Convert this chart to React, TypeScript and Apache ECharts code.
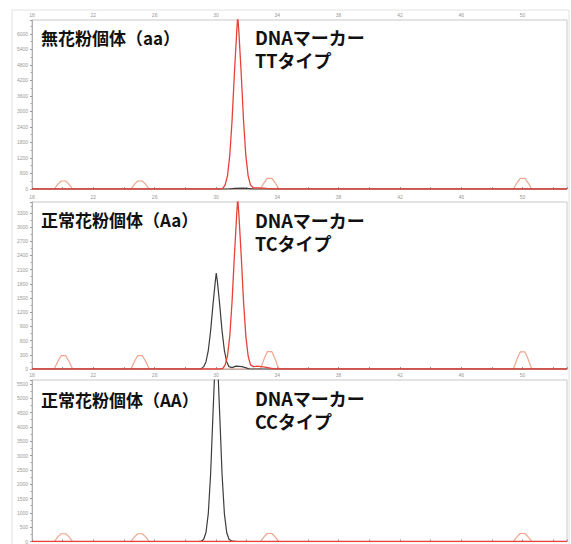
import React, { useEffect, useRef } from "react";
import * as echarts from "echarts";

// ---- data ----
const xMin = 18;
const xMax = 52.9;
const yMaxes = [6540, 3530, 5636];
const yIntervals = [600, 300, 500];

const titles = ["無花粉個体（aa）", "正常花粉個体（Aa）", "正常花粉個体（AA）"];
const markerLine1 = ["DNAマーカー", "DNAマーカー", "DNAマーカー"];
const markerLine2 = ["TTタイプ", "TCタイプ", "CCタイプ"];

const p1Red: [number, number][] = [
  [18, 0], [30.25, 0], [30.45, 26], [30.6, 160], [30.75, 510], [30.9, 1280], [31.05, 2640], [31.2, 4430],
  [31.35, 6040], [31.42, 6700], [31.5, 6040], [31.65, 4430], [31.8, 2640], [31.95, 1280], [32.1, 510],
  [32.25, 160], [32.45, 40], [32.8, 40], [33.3, 20], [34, 0], [52.9, 0],
];
const p1Black: [number, number][] = [
  [18, 0], [30.8, 0], [31.2, 25], [31.8, 35], [32.5, 0], [52.9, 0],
];
const p1Orange: [number, number][] = [
  [18, 0], [19.45, 0], [19.7, 190], [19.9, 310], [20.2, 310], [20.4, 190], [20.65, 0],
  [24.45, 0], [24.7, 190], [24.9, 310], [25.2, 310], [25.4, 190], [25.65, 0],
  [32.9, 0], [33.15, 250], [33.35, 415], [33.65, 415], [33.85, 250], [34.1, 0],
  [49.4, 0], [49.65, 250], [49.85, 415], [50.15, 415], [50.35, 250], [50.6, 0], [52.9, 0],
];

const p2Red: [number, number][] = [
  [18, 0], [30.25, 0], [30.45, 14], [30.6, 88], [30.75, 275], [30.9, 690], [31.05, 1420], [31.2, 2380],
  [31.35, 3245], [31.42, 3600], [31.5, 3245], [31.65, 2380], [31.8, 1420], [31.95, 690], [32.1, 275],
  [32.25, 88], [32.45, 50], [32.7, 60], [33.2, 40], [33.8, 0], [52.9, 0],
];
const p2Black: [number, number][] = [
  [18, 0], [28.85, 0], [29.05, 8], [29.2, 50], [29.35, 155], [29.5, 390], [29.65, 800], [29.8, 1340],
  [29.95, 1830], [30.02, 2030], [30.1, 1830], [30.25, 1340], [30.4, 800], [30.55, 390], [30.7, 155],
  [30.85, 50], [31.05, 30], [31.3, 60], [31.7, 50], [32.2, 0], [52.9, 0],
];
const p2Orange: [number, number][] = [
  [18, 0], [19.45, 0], [19.7, 170], [19.9, 281], [20.2, 281], [20.4, 170], [20.65, 0],
  [24.45, 0], [24.7, 170], [24.9, 281], [25.2, 281], [25.4, 170], [25.65, 0],
  [32.9, 0], [33.15, 220], [33.35, 366], [33.65, 366], [33.85, 220], [34.1, 0],
  [49.4, 0], [49.65, 220], [49.85, 360], [50.15, 360], [50.35, 220], [50.6, 0], [52.9, 0],
];

const p3Red: [number, number][] = [
  [18, 0], [52.9, 0],
];
const p3Black: [number, number][] = [
  [18, 0], [28.85, 0], [29.05, 10], [29.2, 80], [29.35, 315], [29.5, 975], [29.65, 2330], [29.8, 4370],
  [29.95, 6350], [30.02, 7200], [30.1, 6350], [30.25, 4370], [30.4, 2330], [30.55, 975], [30.7, 315],
  [30.85, 80], [31.05, 10], [31.4, 0], [52.9, 0],
];
const p3Orange: [number, number][] = [
  [18, 0], [19.45, 0], [19.7, 170], [19.9, 270], [20.2, 270], [20.4, 170], [20.65, 0],
  [24.45, 0], [24.7, 170], [24.9, 270], [25.2, 270], [25.4, 170], [25.65, 0],
  [32.9, 0], [33.15, 170], [33.35, 280], [33.65, 280], [33.85, 170], [34.1, 0],
  [49.4, 0], [49.65, 170], [49.85, 280], [50.15, 280], [50.35, 170], [50.6, 0], [52.9, 0],
];

const redTraces = [p1Red, p2Red, p3Red];
const blackTraces = [p1Black, p2Black, p3Black];
const orangeTraces = [p1Orange, p2Orange, p3Orange];

// ---- layout ----
const W = 571;
const H = 544;
const gridTops = [20, 202, 380];
const gridHeights = [169, 167, 166];
const gridLeft = 32;
const gridRight = 4;
const titleY = [37, 219, 399];
const markerY = [37, 220, 398];
const markerGap = 23;

const FONT = "'Noto Sans CJK JP', 'Noto Sans', sans-serif";

export default function App() {
  const ref = useRef<HTMLDivElement>(null);
  useEffect(() => {
    if (!ref.current) return;
    const chart = echarts.init(ref.current, null, { renderer: "svg" });
    const grids = gridTops.map((t, i) => ({
      left: gridLeft,
      right: gridRight,
      top: t,
      height: gridHeights[i],
      show: true,
      borderColor: "#c8c8c8",
      borderWidth: 1,
      backgroundColor: "#fff",
    }));
    const xAxes = gridTops.map((_, i) => ({
      type: "value",
      gridIndex: i,
      position: "top",
      min: xMin,
      max: xMax,
      interval: 4,
      axisLine: { show: true, lineStyle: { color: "#b0b0b0", width: 1 } },
      axisTick: { show: true, inside: false, length: 2, lineStyle: { color: "#999" } },
      minorTick: { show: true, splitNumber: 2, length: 2, lineStyle: { color: "#999" } },
      splitLine: { show: false },
      axisLabel: {
        show: true, fontSize: 5, color: "#999", margin: 3, showMaxLabel: false, fontFamily: "Arial",
        formatter: (v: number) => String(v),
      },
    }));
    const yAxes = gridTops.map((_, i) => ({
      type: "value",
      gridIndex: i,
      min: 0,
      max: yMaxes[i],
      interval: yIntervals[i],
      axisLine: { show: true, lineStyle: { color: "#b0b0b0", width: 1 } },
      axisTick: { show: true, length: 2, lineStyle: { color: "#999" } },
      minorTick: { show: true, splitNumber: 2, length: 1.5, lineStyle: { color: "#aaa" } },
      splitLine: { show: false },
      axisLabel: {
        show: true, fontSize: 5, color: "#999", margin: 4, showMaxLabel: false, fontFamily: "Arial",
        formatter: (v: number) => String(v),
      },
    }));
    const series: any[] = [];
    for (let i = 0; i < 3; i++) {
      series.push({
        type: "line",
        xAxisIndex: i,
        yAxisIndex: i,
        data: orangeTraces[i],
        showSymbol: false,
        lineStyle: { color: "#f0a48c", width: 1.2 },
        z: 2,
      });
      series.push({
        type: "line",
        xAxisIndex: i,
        yAxisIndex: i,
        data: blackTraces[i],
        showSymbol: false,
        lineStyle: { color: "#3c3c3c", width: 1.2 },
        z: 3,
      });
      series.push({
        type: "line",
        xAxisIndex: i,
        yAxisIndex: i,
        data: redTraces[i],
        showSymbol: false,
        lineStyle: { color: "#e8413a", width: 1.3 },
        z: 4,
      });
    }
    const graphics: any[] = [
      {
        type: "rect",
        shape: { x: 12, y: 10, width: 557, height: 540 },
        style: { fill: "none", stroke: "#e2e2e2", lineWidth: 1 },
        z: -10,
        silent: true,
      },
    ];
    for (let i = 0; i < 3; i++) {
      graphics.push({
        type: "text",
        x: 41,
        y: titleY[i],
        style: { text: titles[i], font: `bold 17px ${FONT}`, fill: "#111", verticalAlign: "middle" },
        z: 100,
      });
      graphics.push({
        type: "text",
        x: 255,
        y: markerY[i],
        style: { text: markerLine1[i], font: `bold 18px ${FONT}`, fill: "#111", verticalAlign: "middle" },
        z: 100,
      });
      graphics.push({
        type: "text",
        x: 255,
        y: markerY[i] + markerGap,
        style: { text: markerLine2[i], font: `bold 18px ${FONT}`, fill: "#111", verticalAlign: "middle" },
        z: 100,
      });
    }
    chart.setOption({
      animation: false,
      backgroundColor: "#fff",
      grid: grids,
      xAxis: xAxes,
      yAxis: yAxes,
      series,
      graphic: graphics,
    });
    return () => chart.dispose();
  }, []);
  return (
    <div
      ref={ref}
      style={{ position: "fixed", left: 0, top: 0, width: W, height: H, background: "#fff" }}
    />
  );
}
